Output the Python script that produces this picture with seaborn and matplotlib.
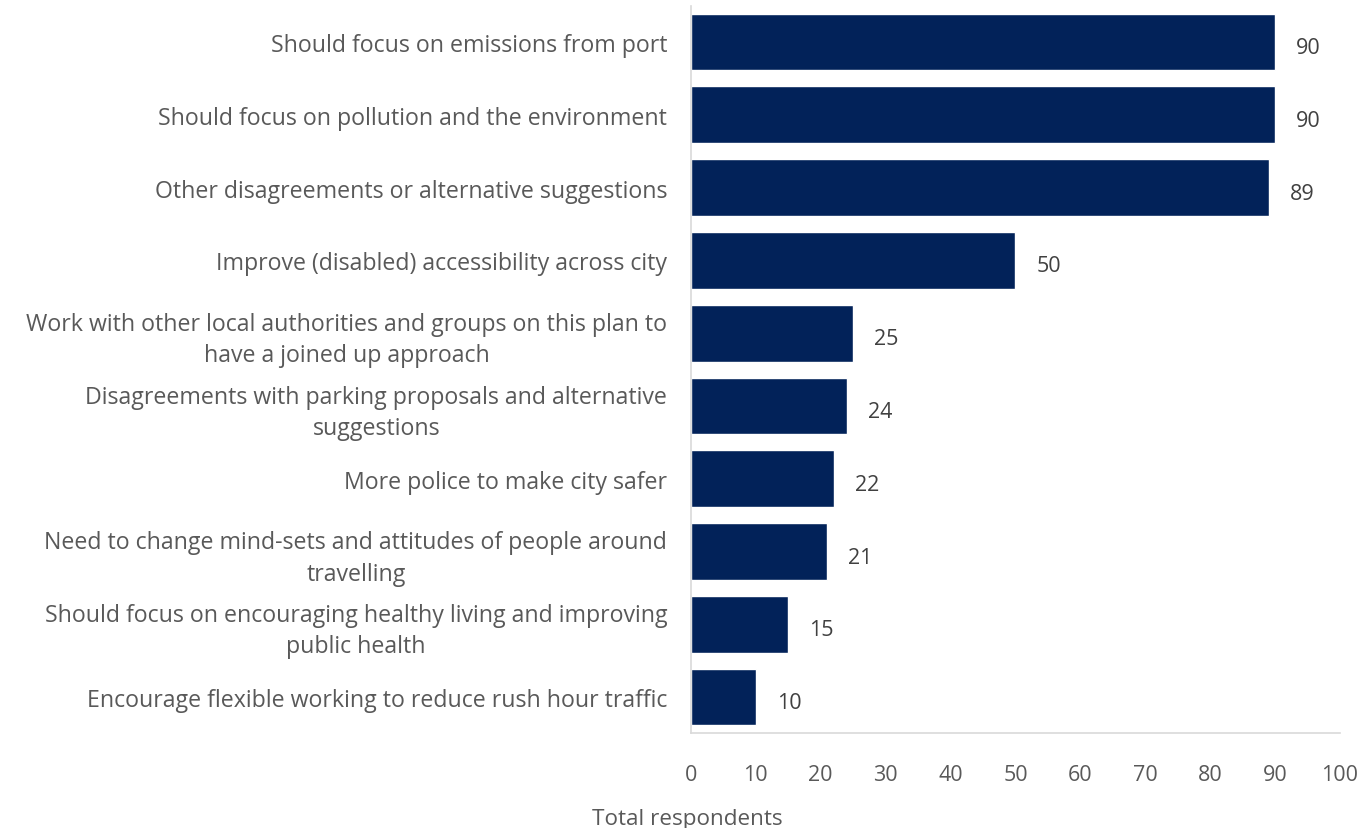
import matplotlib
matplotlib.use("Agg")
import matplotlib.pyplot as plt
import seaborn as sns
import pandas as pd

categories = [
    "Should focus on emissions from port",
    "Should focus on pollution and the environment",
    "Other disagreements or alternative suggestions",
    "Improve (disabled) accessibility across city",
    "Work with other local authorities and groups on this plan to\nhave a joined up approach",
    "Disagreements with parking proposals and alternative\nsuggestions",
    "More police to make city safer",
    "Need to change mind-sets and attitudes of people around\ntravelling",
    "Should focus on encouraging healthy living and improving\npublic health",
    "Encourage flexible working to reduce rush hour traffic",
]
values = [90, 90, 89, 50, 25, 24, 22, 21, 15, 10]
x_ticks = [0, 10, 20, 30, 40, 50, 60, 70, 80, 90, 100]
x_label = "Total respondents"

sns.set_theme(style="white")
plt.rcParams["font.family"] = ["Open Sans", "DejaVu Sans"]

TEXT = "#595959"
BAR = "#022259"
SPINE = "#d9d9d9"

df = pd.DataFrame({"category": categories, "value": values})

fig = plt.figure(figsize=(13.62, 8.29), dpi=100)
ax = fig.add_axes([0.5073, 0.1141, 0.4765, 0.8779])
sns.barplot(data=df, x="value", y="category", color=BAR, width=0.78,
            saturation=1, ax=ax, orient="h")

ax.set_xlim(0, 100)
ax.set_ylim(9.5, -0.5)
ax.set_xticks(x_ticks)
ax.set_xticklabels([str(t) for t in x_ticks])
ax.tick_params(axis="x", colors=TEXT, labelsize=15.5, length=0, pad=22)
ax.tick_params(axis="y", colors=TEXT, labelsize=16.7, length=0, pad=17)
for lbl in ax.get_yticklabels():
    lbl.set_multialignment("center")
    lbl.set_linespacing(1.4)
ax.set_ylabel("")
ax.set_xlabel(x_label, color=TEXT, fontsize=16.2)
ax.xaxis.set_label_coords(-0.005, -0.1025)

for s in ["top", "right"]:
    ax.spines[s].set_visible(False)
for s in ["left", "bottom"]:
    ax.spines[s].set_color(SPINE)
    ax.spines[s].set_linewidth(1.2)

for c in ax.containers:
    anns = ax.bar_label(c, labels=[str(v) for v in values], padding=15,
                        color="#404040", fontsize=15.5)
    for a in anns:
        a.xyann = (15, -4)

fig.savefig("out.png", dpi=100, facecolor="white")
